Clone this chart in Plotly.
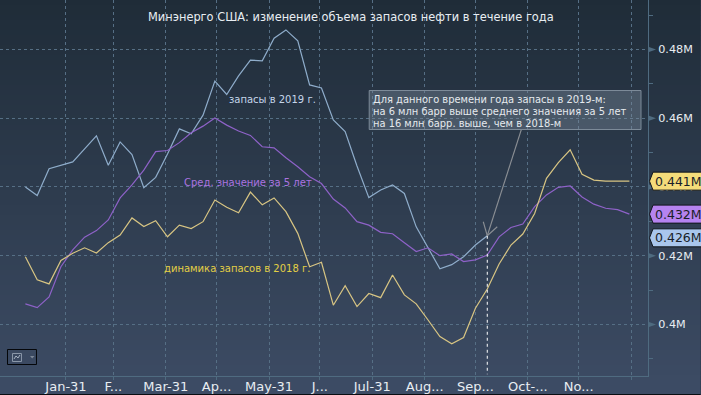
import plotly.graph_objects as go
import pandas as pd

weeks = pd.date_range("2019-01-07", periods=52, freq="7D")

stocks_2019 = [440.0,437.5,445.3,446.2,447.3,451.1,454.9,446.3,453.1,449.4,439.8,442.8,449.6,456.9,455.5,460.9,470.8,466.9,472.3,476.9,476.7,483.3,485.7,482.5,469.7,468.8,459.5,456.1,446.1,436.9,439.1,440.6,438.1,428.4,422.3,416.2,417.4,419.7,423.1,425.8]
avg_5y = [406.0,404.9,408.0,416.8,421.7,425.4,427.3,430.4,436.8,440.6,444.9,450.3,450.6,452.9,455.8,457.7,460.1,458.0,456.3,455.0,451.7,451.4,448.5,445.9,443.0,441.0,436.5,433.9,429.9,428.9,426.8,426.4,423.8,421.2,422.3,420.0,420.5,418.3,418.8,420.2,425.5,428.2,429.2,434.3,437.7,439.9,440.3,437.1,435.0,433.8,433.4,432.1]
stocks_2018 = [419.7,413.0,411.8,418.6,420.7,422.3,420.8,423.8,426.0,431.0,428.5,430.2,425.5,428.9,427.9,429.9,436.2,434.1,432.5,438.5,434.8,436.8,432.8,426.5,416.8,418.1,405.6,411.3,405.2,409.0,407.8,414.4,408.6,406.0,401.3,396.5,394.4,396.2,404.7,410.3,417.6,423.1,426.3,432.3,442.5,447.1,450.8,443.7,442.0,441.7,441.7,441.7]

month_ticks = ["2019-01-31","2019-02-28","2019-03-31","2019-04-30","2019-05-31","2019-06-30","2019-07-31","2019-08-31","2019-09-30","2019-10-31","2019-11-30","2019-12-31"]
month_labels = ["Jan-31","F...","Mar-31","Ap...","May-31","J...","Jul-31","Aug...","Sep...","Oct-...","No...",""]
y_ticks = [400,420,440,460,480]
y_labels = ["0.4M","0.42M","0.44M","0.46M","0.48M"]
y_minor = [390,410,430,450,470,490]
last_values = [("0.441M",441.7,"#f5dc7a"),("0.432M",432.1,"#b583f0"),("0.426M",425.2,"#a9c6ec")]

W, H = 701, 395
L, R, T, B = 0, 52.5, 0, 19
PW, PH = W-L-R, H-T-B
FONT = "DejaVu Sans"
px = lambda x: (x-L)/PW
py = lambda y: 1-(y-T)/PH

def lerp(a,b,t): return int(round(a+(b-a)*t))
top, bot = (31,44,56), (61,76,101)
shapes = []
n = 79
for i in range(n):
    t = (i+.5)/n
    shapes.append(dict(type="rect", xref="paper", yref="paper", layer="below", line_width=0,
        x0=px(0), x1=px(W), y0=py(i*H/n), y1=py((i+1)*H/n+.5),
        fillcolor="rgb(%d,%d,%d)"%(lerp(top[0],bot[0],t),lerp(top[1],bot[1],t),lerp(top[2],bot[2],t))))

fig = go.Figure()
fig.add_trace(go.Scatter(x=weeks[:len(stocks_2019)], y=stocks_2019, mode="lines", line=dict(color="#8fadcb", width=1.2), name="2019", showlegend=False))
fig.add_trace(go.Scatter(x=weeks, y=avg_5y, mode="lines", line=dict(color="#8e62c8", width=1.2), name="5y", showlegend=False))
fig.add_trace(go.Scatter(x=weeks, y=stocks_2018, mode="lines", line=dict(color="#d8c583", width=1.2), name="2018", showlegend=False))

# right axis tick arrows
for v in y_ticks:
    shapes.append(dict(type="path", xref="paper", yref="y", xsizemode="pixel", ysizemode="pixel",
        xanchor=1, yanchor=v, path="M 1 -2.5 L 8 0 L 1 2.5 Z", fillcolor="#4f6b80", line_width=0))

# marker line and pointer
mark_x = weeks[len(stocks_2019)-1]
mark_y = stocks_2019[-1]
shapes.append(dict(type="line", xref="x", yref="y", x0=mark_x, x1=mark_x, y0=mark_y, y1=385.5,
    line=dict(color="#ffffff", width=1, dash="dot")))
grey = "#8b8f94"
for p in ["M 0 0 L 34 106","M 0 0 L -4 14","M 0 0 L 10 9"]:
    shapes.append(dict(type="path", xref="x", yref="y", xsizemode="pixel", ysizemode="pixel",
        xanchor=mark_x, yanchor=mark_y, path=p, line=dict(color=grey, width=1.1)))

# note box
shapes.append(dict(type="rect", xref="paper", yref="paper", x0=px(369.5), x1=px(641.5), y0=py(90.5), y1=py(129.5),
    fillcolor="rgba(130,145,160,0.38)", line=dict(color="#7d8b99", width=1)))

# last-value tags
for txt, v, col in last_values:
    shapes.append(dict(type="path", xref="paper", yref="y", xsizemode="pixel", ysizemode="pixel",
        xanchor=1, yanchor=v, path="M 1.5 0 L 5 9 L 55 9 L 55 -9 L 5 -9 Z", fillcolor=col,
        line=dict(color="#10151b", width=1)))

# widget, bottom-left
shapes += [
    dict(type="rect", xref="paper", yref="paper", x0=px(7.5), x1=px(36.5), y0=py(349.5), y1=py(364.5), fillcolor="rgba(0,0,0,0)", line=dict(color="#05070a", width=1)),
    dict(type="rect", xref="paper", yref="paper", x0=px(12.5), x1=px(21.5), y0=py(353.5), y1=py(361.5), fillcolor="rgba(0,0,0,0)", line=dict(color="#8a97a8", width=1)),
    dict(type="path", xref="paper", yref="paper", path="M %f %f L %f %f L %f %f L %f %f"%(px(14),py(359),px(16),py(356),px(18),py(358),px(20),py(355)), line=dict(color="#a8b4c2", width=1)),
    dict(type="path", xref="paper", yref="paper", path="M %f %f L %f %f L %f %f Z"%(px(30),py(356),px(34.5),py(356),px(32.2),py(358.5)), fillcolor="#7d8896", line_width=0),
    dict(type="rect", xref="paper", yref="paper", x0=px(0), x1=px(W), y0=py(394), y1=py(395), fillcolor="#0a0d12", line_width=0),
]

def note(x, y, text, color, size=10, anchor="left", **kw):
    return dict(xref="paper", yref="paper", x=px(x-2), y=py(y), text=text, showarrow=False, xanchor=anchor, yanchor="middle",
        font=dict(family=FONT, size=size, color=color), **kw)

ann = [
    note(148, 17, "Минэнерго США: изменение объема запасов нефти в течение года", "#e8edf2", 11.4),
    note(229, 99, "запасы в 2019 г.", "#c5d6ea", 10),
    note(184, 182, "Сред. значение за 5 лет", "#ab73e0", 10),
    note(164, 268.5, "динамика запасов в 2018 г.", "#e3cf45", 10),
    note(373, 99.5, "Для данного времени года запасы в 2019-м:", "#e6eaee", 9.9),
    note(373, 111.5, "на 6 млн барр выше среднего значения за 5 лет", "#e6eaee", 9.9),
    note(373, 123.5, "на 16 млн барр. выше, чем в 2018-м", "#e6eaee", 9.9),
]
for txt, v, col in last_values:
    ann.append(dict(xref="paper", yref="y", x=px(654), y=v, text=txt, showarrow=False, xanchor="left", yanchor="middle",
        font=dict(family=FONT, size=12.5, color="#1a1f28")))

fig.update_layout(
    width=W, height=H, margin=dict(l=L, r=R, t=T, b=B, pad=0, autoexpand=False),
    paper_bgcolor="#2c3a4c", plot_bgcolor="rgba(0,0,0,0)", showlegend=False,
    font=dict(family=FONT, size=11, color="#e8edf2"),
    shapes=shapes, annotations=ann,
    xaxis=dict(type="date", range=["2018-12-23","2020-01-10"], tickmode="array", tickvals=month_ticks, ticktext=month_labels, automargin=False,
        showgrid=True, gridcolor="#566f85", griddash="dot", gridwidth=1, showline=True, linecolor="#4f6b80", linewidth=1,
        ticks="outside", ticklen=3, tickcolor="#4f6b80", tickangle=0, zeroline=False, ticklabelstandoff=-5, tickfont=dict(size=13, color="#e8edf2")),
    yaxis=dict(side="right", range=[385, 494.4], tickmode="array", tickvals=y_ticks, ticktext=y_labels, automargin=False,
        showgrid=True, gridcolor="#566f85", griddash="dot", gridwidth=1, showline=True, linecolor="#4f6b80", linewidth=1,
        ticks="", zeroline=False, ticklabelstandoff=7, tickfont=dict(size=11.2, color="#e8edf2"),
        minor=dict(tickmode="array", tickvals=y_minor, ticks="outside", ticklen=4, tickcolor="#4f6b80", showgrid=False)),
)
fig.write_html("out.html", config={"displayModeBar": False},
    post_script="document.body.style.margin='0';document.documentElement.style.overflow='hidden';")
